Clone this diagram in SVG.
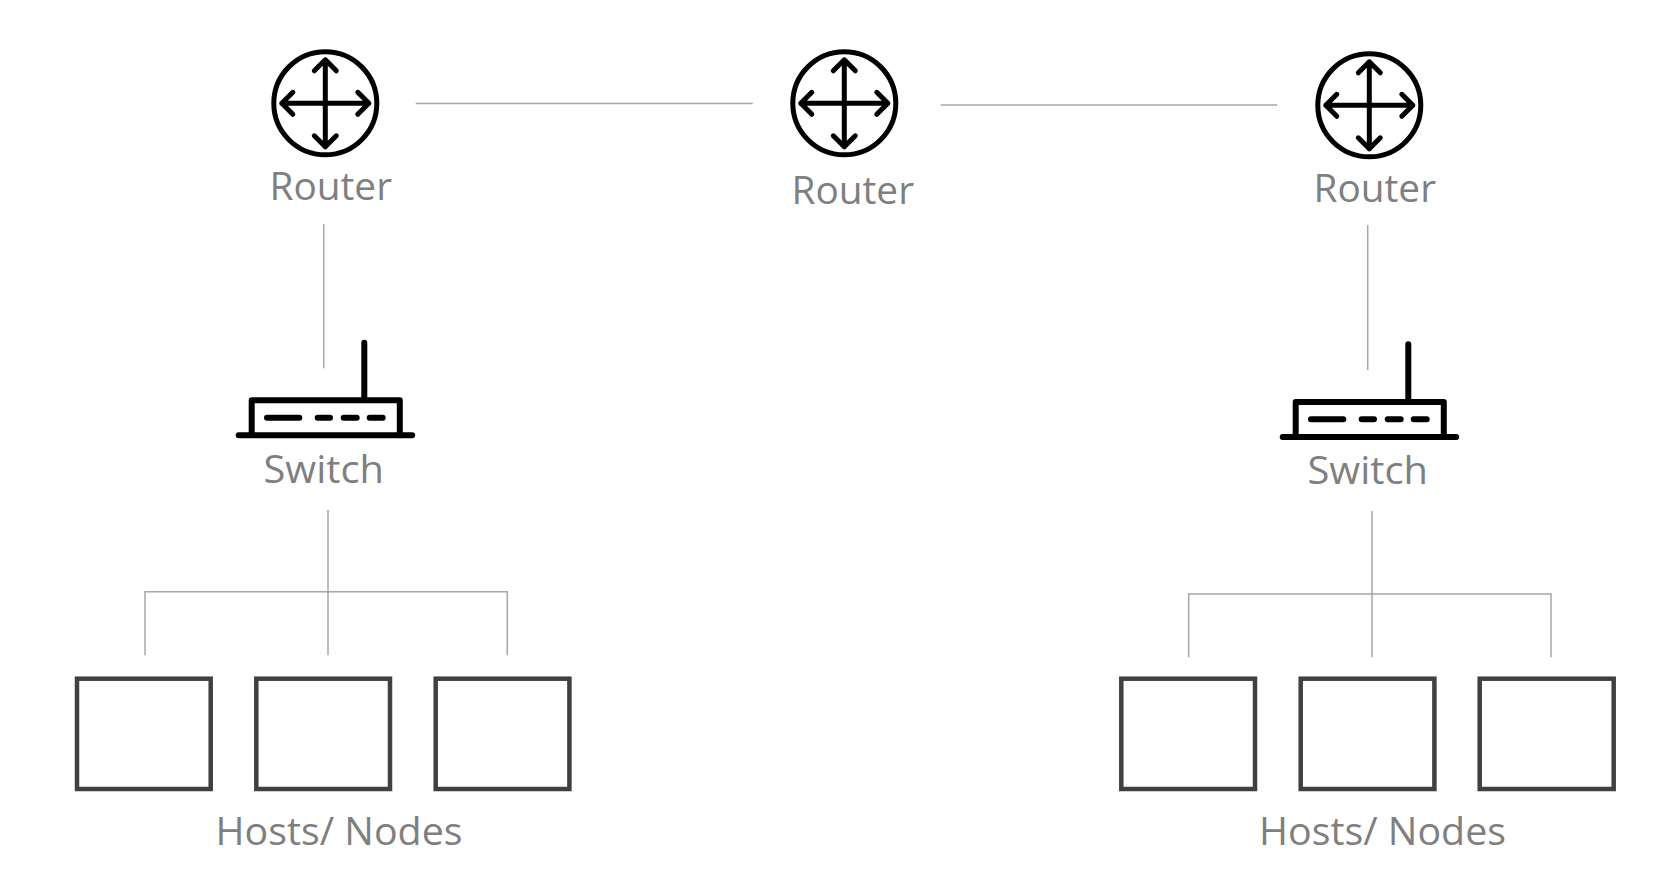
<svg xmlns="http://www.w3.org/2000/svg" width="1680" height="878" viewBox="0 0 1680 878">
<style>
.link{fill:none;stroke:#a6a6a6;stroke-width:1.5}
.ic{fill:none;stroke:#000;stroke-width:5;stroke-linecap:round;stroke-linejoin:round}
.sw{fill:none;stroke:#000;stroke-width:6;stroke-linecap:round;stroke-linejoin:round}
.host{fill:#fff;stroke:#404040;stroke-width:4.5}
.lbl{font-family:"Open Sans","Noto Sans",sans-serif;font-size:39px;fill:#7f7f7f}
</style>
<defs>
<g id="router-icon" class="ic">
<circle cx="0" cy="0" r="51.500"/>
<path d="M0-43.500V43.500M-43.500 0H43.500M-11-32.500 0-43.500 11-32.500M-11 32.500 0 43.500 11 32.500M-32.500-11-43.500 0-32.500 11M32.500-11 43.500 0 32.500 11"/>
</g>
<g id="switch-icon" class="sw">
<path d="M-125.600 33.600H47.900M-112.600 33.600V-1.400H35.500V33.600M0-1.400V-59"/>
<path d="M-97.300 16H-65M-46.600 16H-34.300M-20.600 16H-7.600M5.400 16H18.400"/>
</g>
</defs>
<rect width="1680" height="878" fill="#fff"/>
<g id="connectors">
<path class="link" d="M415.700 103.500H752.700"/>
<path class="link" d="M940.700 105H1277.300"/>
<path class="link" d="M323.700 224V368.300"/>
<path class="link" d="M328 510V655.300M145 655.300V591.700H507.300V655.300"/>
<path class="link" d="M1367.700 225V370"/>
<path class="link" d="M1372 511V657.300M1188.700 657.300V594H1551V657.300"/>
</g>
<g id="router-1"><use href="#router-icon" x="325.300" y="103.300"/><text class="lbl" x="269.500" y="200" textLength="122.500" lengthAdjust="spacingAndGlyphs">Router</text></g>
<g id="router-2"><use href="#router-icon" x="844.300" y="103.300"/><text class="lbl" x="791.500" y="204.300" textLength="122.500" lengthAdjust="spacingAndGlyphs">Router</text></g>
<g id="router-3"><use href="#router-icon" x="1369.300" y="105.300"/><text class="lbl" x="1313.500" y="201.500" textLength="122.500" lengthAdjust="spacingAndGlyphs">Router</text></g>
<g id="switch-1"><use href="#switch-icon" x="364.300" y="401.700"/><text class="lbl" x="263.500" y="482.500" textLength="120.500" lengthAdjust="spacingAndGlyphs">Switch</text></g>
<g id="switch-2"><use href="#switch-icon" x="1408.300" y="403.300"/><text class="lbl" x="1307.500" y="483.800" textLength="120.500" lengthAdjust="spacingAndGlyphs">Switch</text></g>
<g id="host-1"><rect class="host" x="77" y="678.700" width="133.700" height="110.300"/></g>
<g id="host-2"><rect class="host" x="256.300" y="678.700" width="133.700" height="110.300"/></g>
<g id="host-3"><rect class="host" x="435.700" y="678.700" width="133.700" height="110.300"/></g>
<g id="host-4"><rect class="host" x="1121.300" y="678.700" width="133.700" height="110.300"/></g>
<g id="host-5"><rect class="host" x="1300.700" y="678.700" width="133.700" height="110.300"/></g>
<g id="host-6"><rect class="host" x="1479.700" y="678.700" width="134" height="110.300"/></g>
<g id="label-hosts-1"><text class="lbl" x="215.500" y="845" textLength="247" lengthAdjust="spacingAndGlyphs">Hosts/ Nodes</text></g>
<g id="label-hosts-2"><text class="lbl" x="1259" y="845" textLength="247" lengthAdjust="spacingAndGlyphs">Hosts/ Nodes</text></g>
</svg>
